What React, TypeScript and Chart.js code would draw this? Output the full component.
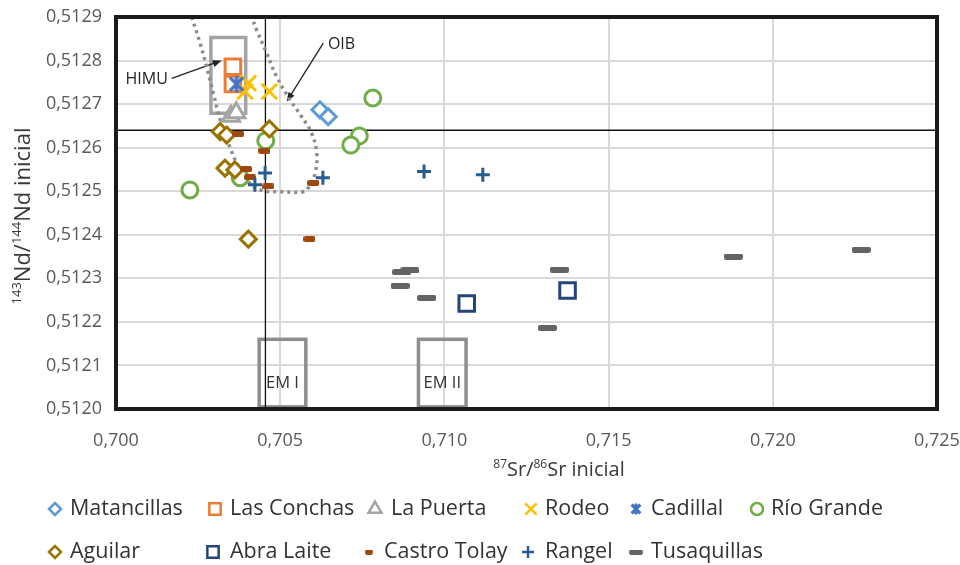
import React, { useEffect, useRef } from 'react';
import { Chart, registerables } from 'chart.js';
import { drawPoint } from 'chart.js/helpers';

Chart.register(...registerables);

const FONT = '"Open Sans", "Liberation Sans", sans-serif';

// ---- Series names ----
const seriesNames = [
  'Matancillas', 'Las Conchas', 'La Puerta', 'Rodeo', 'Cadillal', 'Río Grande',
  'Aguilar', 'Abra Laite', 'Castro Tolay', 'Rangel', 'Tusaquillas',
];

// ---- 87Sr/86Sr (x) and 143Nd/144Nd (y) per locality ----
const matancillasX = [0.70621, 0.70646];
const matancillasY = [0.512687, 0.512671];

const lasConchasX = [0.70356, 0.70356];
const lasConchasY = [0.512786, 0.512746];

const laPuertaX = [0.70350, 0.70366];
const laPuertaY = [0.512672, 0.512680];

const rodeoX = [0.70403, 0.70393, 0.70467];
const rodeoY = [0.512748, 0.512729, 0.512729];

const cadillalX = [0.70367];
const cadillalY = [0.512746];

const rioGrandeX = [0.70782, 0.70741, 0.70715, 0.70456, 0.70378, 0.70225];
const rioGrandeY = [0.512714, 0.512627, 0.512606, 0.512616, 0.512531, 0.512503];

const aguilarX = [0.70317, 0.70337, 0.70467, 0.70332, 0.70362, 0.70403];
const aguilarY = [0.512637, 0.512629, 0.512643, 0.512553, 0.512549, 0.512390];

const abraLaiteX = [0.71068, 0.71375];
const abraLaiteY = [0.512242, 0.512272];

const castroTolayX = [0.70372, 0.70452, 0.70396, 0.70408, 0.70464, 0.70601, 0.70589];
const castroTolayY = [0.512632, 0.512593, 0.512551, 0.512532, 0.512511, 0.512519, 0.512390];

const rangelX = [0.70454, 0.70423, 0.70630, 0.70938, 0.71117];
const rangelY = [0.512542, 0.512515, 0.512531, 0.512545, 0.512538];

const tusaquillasX = [0.70870, 0.70895, 0.70865, 0.70946, 0.71350, 0.71314, 0.71880, 0.72269];
const tusaquillasY = [0.512314, 0.512318, 0.512283, 0.512255, 0.512320, 0.512186, 0.512350, 0.512366];

// ---- OIB field outline ----
const oibX = [
  0.702305, 0.702560, 0.702780, 0.702980, 0.703170, 0.703500, 0.703724, 0.703980,
  0.704385, 0.704994, 0.705703, 0.705877, 0.706060, 0.706112, 0.705959, 0.705655,
  0.705298, 0.704893, 0.704589, 0.704284, 0.704132,
];
const oibY = [
  0.512900, 0.512840, 0.512780, 0.512720, 0.512665, 0.512595, 0.512557, 0.512526,
  0.512503, 0.512499, 0.512499, 0.512510, 0.512541, 0.512587, 0.512633, 0.512671,
  0.512710, 0.512763, 0.512817, 0.512870, 0.512900,
];

// ---- Reference values (CHUR / bulk earth) ----
const refSr = 0.70455;
const refNd = 0.51264;

// ---- Mantle end-member boxes: [xMin, xMax, yMin, yMax] ----
const himuBox = [0.70289, 0.70395, 0.512679, 0.512853];
const em1Box = [0.70436, 0.70578, 0.512005, 0.512160];
const em2Box = [0.70921, 0.71066, 0.512005, 0.512160];
const boxLabels = ['EM I', 'EM II'];

// ---- Callout labels with arrows: [textX, textY, fromX, fromY, toX, toY] ----
const himuCallout = [0.700934, 0.512756, 0.701696, 0.512759, 0.703219, 0.512800];
const oibCallout = [0.706867, 0.512838, 0.706312, 0.512840, 0.705198, 0.512706];
const calloutLabels = ['HIMU', 'OIB'];

// ---- Axis ticks ----
const xTicks = [0.700, 0.705, 0.710, 0.715, 0.720, 0.725];
const yTicks = [0.5120, 0.5121, 0.5122, 0.5123, 0.5124, 0.5125, 0.5126, 0.5127, 0.5128, 0.5129];

const xTitleParts = [
  { text: '87', sup: true }, { text: 'Sr/' }, { text: '86', sup: true }, { text: 'Sr inicial' },
];
const yTitleParts = [
  { text: '143', sup: true }, { text: 'Nd/' }, { text: '144', sup: true }, { text: 'Nd inicial' },
];

// ---- Custom marker glyphs ----
function makeDash(w: number, h: number, color: string) {
  const c = document.createElement('canvas');
  c.width = w;
  c.height = h;
  const g = c.getContext('2d')!;
  g.fillStyle = color;
  g.beginPath();
  (g as any).roundRect(0, 0, w, h, Math.min(2, h / 2));
  g.fill();
  return c;
}

function makeAsterisk(size: number, color: string, lw: number) {
  const c = document.createElement('canvas');
  c.width = size;
  c.height = size;
  const g = c.getContext('2d')!;
  g.strokeStyle = color;
  g.lineWidth = lw;
  const m = size / 2;
  const r = size / 2 - lw / 2;
  const d = r * 0.8;
  g.beginPath();
  g.moveTo(m, m - r);
  g.lineTo(m, m + r);
  g.moveTo(m - d, m - d);
  g.lineTo(m + d, m + d);
  g.moveTo(m + d, m - d);
  g.lineTo(m - d, m + d);
  g.stroke();
  return c;
}

const COLORS = {
  matancillas: '#5b9bd5',
  lasConchas: '#ed7d31',
  laPuerta: '#a5a5a5',
  rodeo: '#ffc000',
  cadillal: '#4472c4',
  rioGrande: '#70ad47',
  aguilar: '#997300',
  abraLaite: '#264478',
  castroTolay: '#9e480e',
  rangel: '#255e91',
  tusaquillas: '#636363',
};

export default function App() {
  const ref = useRef<HTMLCanvasElement>(null);

  useEffect(() => {
    const pts = (xs: number[], ys: number[]) => xs.map((x, i) => ({ x, y: ys[i] }));

    const cadillalMark = makeAsterisk(20, COLORS.cadillal, 3.4);
    const castroMark = makeDash(12, 6, COLORS.castroTolay);
    const tusaMark = makeDash(19, 6, COLORS.tusaquillas);

    // marker style per series (same order as seriesNames)
    const styles: any[] = [
      { xs: matancillasX, ys: matancillasY, color: COLORS.matancillas, style: 'rectRot', r: 8, lr: 6 },
      { xs: lasConchasX, ys: lasConchasY, color: COLORS.lasConchas, style: 'rect', r: 11, lr: 8 },
      { xs: laPuertaX, ys: laPuertaY, color: COLORS.laPuerta, style: 'triangle', r: 10, lr: 7.5 },
      { xs: rodeoX, ys: rodeoY, color: COLORS.rodeo, style: 'crossRot', r: 11, lr: 8 },
      { xs: cadillalX, ys: cadillalY, color: COLORS.cadillal, style: cadillalMark, r: 9, legendImg: makeAsterisk(14, COLORS.cadillal, 3) },
      { xs: rioGrandeX, ys: rioGrandeY, color: COLORS.rioGrande, style: 'circle', r: 8, lr: 6 },
      { xs: aguilarX, ys: aguilarY, color: COLORS.aguilar, style: 'rectRot', r: 8, lr: 6 },
      { xs: abraLaiteX, ys: abraLaiteY, color: COLORS.abraLaite, style: 'rect', r: 11, lr: 8 },
      { xs: castroTolayX, ys: castroTolayY, color: COLORS.castroTolay, style: castroMark, r: 6, legendImg: makeDash(8, 5, COLORS.castroTolay) },
      { xs: rangelX, ys: rangelY, color: COLORS.rangel, style: 'cross', r: 7, lr: 6 },
      { xs: tusaquillasX, ys: tusaquillasY, color: COLORS.tusaquillas, style: tusaMark, r: 9, legendImg: makeDash(14, 5, COLORS.tusaquillas) },
    ];

    // later series are painted on top of earlier ones
    const datasets: any[] = styles.map((s, i) => ({
      label: seriesNames[i],
      data: pts(s.xs, s.ys),
      pointStyle: s.style,
      pointRadius: s.r,
      pointBorderWidth: 3,
      pointBorderColor: s.color,
      pointBackgroundColor: '#ffffff',
      showLine: false,
      order: 50 - i,
    }));

    datasets.push({
      label: 'OIB',
      data: pts(oibX, oibY),
      showLine: true,
      pointRadius: 0,
      borderColor: '#8c8c8c',
      borderWidth: 3.5,
      borderDash: [3, 4],
      tension: 0.4,
      fill: false,
      order: 100,
    });

    // legend layout: [series index, marker x, text x, row y]
    const legendLayout = [
      [0, 55, 70, 509], [1, 215, 230, 509], [2, 375, 391, 509], [3, 531, 545, 509],
      [4, 636, 651, 509], [5, 757, 771, 509],
      [6, 55, 70, 552], [7, 213, 230, 552], [8, 369, 384, 552], [9, 528, 545, 552],
      [10, 636, 651, 552],
    ];

    const drawRich = (ctx: CanvasRenderingContext2D, parts: any[], x: number, y: number, main: number, sup: number) => {
      let total = 0;
      const widths = parts.map((p) => {
        ctx.font = `${p.sup ? sup : main}px ${FONT}`;
        const w = ctx.measureText(p.text).width;
        total += w;
        return w;
      });
      let cx = x - total / 2;
      ctx.textAlign = 'left';
      ctx.textBaseline = 'alphabetic';
      parts.forEach((p, i) => {
        ctx.font = `${p.sup ? sup : main}px ${FONT}`;
        ctx.fillText(p.text, cx, p.sup ? y - main * 0.4 : y);
        cx += widths[i];
      });
    };

    const decor = {
      id: 'decor',
      beforeDatasetsDraw(chart: any) {
        const { ctx, scales } = chart;
        const xs = scales.x;
        const ys = scales.y;
        const px = (v: number) => xs.getPixelForValue(v);
        const py = (v: number) => ys.getPixelForValue(v);
        const area = chart.chartArea;
        ctx.save();

        const box = (b: number[], color: string) => {
          ctx.strokeStyle = color;
          ctx.lineWidth = 3.5;
          ctx.strokeRect(px(b[0]), py(b[3]), px(b[1]) - px(b[0]), py(b[2]) - py(b[3]));
        };
        box(himuBox, '#a3a3a3');
        box(em1Box, '#8e8e8e');
        box(em2Box, '#8e8e8e');

        // box captions
        ctx.fillStyle = '#333333';
        ctx.font = `16.5px ${FONT}`;
        ctx.textAlign = 'center';
        ctx.textBaseline = 'middle';
        [em1Box, em2Box].forEach((b, i) => {
          ctx.fillText(boxLabels[i], (px(b[0]) + px(b[1])) / 2, py(0.51206));
        });

        // reference lines
        ctx.strokeStyle = '#111111';
        ctx.lineWidth = 1.3;
        ctx.beginPath();
        ctx.moveTo(px(refSr), area.top);
        ctx.lineTo(px(refSr), area.bottom);
        ctx.moveTo(area.left, py(refNd));
        ctx.lineTo(area.right, py(refNd));
        ctx.stroke();

        // callouts
        [himuCallout, oibCallout].forEach((c, i) => {
          ctx.fillStyle = '#222222';
          ctx.font = `16px ${FONT}`;
          ctx.textAlign = 'center';
          ctx.textBaseline = 'middle';
          ctx.fillText(calloutLabels[i], px(c[0]), py(c[1]));
          const x1 = px(c[2]), y1 = py(c[3]), x2 = px(c[4]), y2 = py(c[5]);
          const ang = Math.atan2(y2 - y1, x2 - x1);
          const hl = 9, hw = 3.5;
          ctx.strokeStyle = '#222222';
          ctx.lineWidth = 1.3;
          ctx.beginPath();
          ctx.moveTo(x1, y1);
          ctx.lineTo(x2 - Math.cos(ang) * hl * 0.8, y2 - Math.sin(ang) * hl * 0.8);
          ctx.stroke();
          ctx.beginPath();
          ctx.moveTo(x2, y2);
          ctx.lineTo(x2 - Math.cos(ang) * hl + Math.sin(ang) * hw, y2 - Math.sin(ang) * hl - Math.cos(ang) * hw);
          ctx.lineTo(x2 - Math.cos(ang) * hl - Math.sin(ang) * hw, y2 - Math.sin(ang) * hl + Math.cos(ang) * hw);
          ctx.closePath();
          ctx.fill();
        });
        ctx.restore();
      },
      afterDraw(chart: any) {
        const { ctx } = chart;
        const area = chart.chartArea;
        ctx.save();
        // plot frame
        ctx.strokeStyle = '#1a1a1a';
        ctx.lineWidth = 4;
        ctx.strokeRect(area.left, area.top, area.right - area.left, area.bottom - area.top);

        // axis titles
        ctx.fillStyle = '#3a3a3a';
        drawRich(ctx, xTitleParts, 559, 476, 20, 12);
        ctx.save();
        ctx.translate(30, 216);
        ctx.rotate(-Math.PI / 2);
        drawRich(ctx, yTitleParts, 0, 0, 22, 13);
        ctx.restore();

        // legend
        legendLayout.forEach(([idx, mx, tx, ly]) => {
          const s = styles[idx];
          ctx.save();
          ctx.strokeStyle = s.color;
          ctx.fillStyle = '#ffffff';
          ctx.lineWidth = 2.5;
          drawPoint(ctx, {
            pointStyle: s.legendImg || s.style,
            radius: s.lr || 6,
            rotation: 0,
            borderWidth: 2.5,
          } as any, mx, ly);
          ctx.restore();
          ctx.fillStyle = '#333333';
          ctx.font = `21.5px ${FONT}`;
          ctx.textAlign = 'left';
          ctx.textBaseline = 'middle';
          ctx.fillText(seriesNames[idx], tx, ly);
        });
        ctx.restore();
      },
    };

    const chart = new Chart(ref.current!, {
      type: 'scatter',
      data: { datasets },
      options: {
        responsive: false,
        animation: false,
        devicePixelRatio: 1,
        events: [],
        layout: { padding: { left: 0, top: 17, right: 23, bottom: 0 } },
        plugins: { legend: { display: false }, tooltip: { enabled: false } },
        scales: {
          x: {
            type: 'linear',
            min: 0.7,
            max: 0.725,
            afterBuildTicks: (s: any) => { s.ticks = xTicks.map((v) => ({ value: v })); },
            afterFit: (s: any) => { s.height = 156; s.paddingLeft = 0; s.paddingRight = 0; },
            ticks: {
              callback: (v: any) => Number(v).toFixed(3).replace('.', ','),
              font: { family: FONT, size: 18 },
              color: '#595959',
              padding: 21,
              maxRotation: 0,
              autoSkip: false,
            },
            grid: { color: '#d9d9d9', lineWidth: 2, drawTicks: false },
            border: { display: false },
          },
          y: {
            type: 'linear',
            min: 0.512,
            max: 0.5129,
            afterBuildTicks: (s: any) => { s.ticks = yTicks.map((v) => ({ value: v })); },
            afterFit: (s: any) => { s.width = 116; s.paddingTop = 0; s.paddingBottom = 0; },
            ticks: {
              callback: (v: any) => Number(v).toFixed(4).replace('.', ','),
              font: { family: FONT, size: 18 },
              color: '#595959',
              padding: 14,
              autoSkip: false,
            },
            grid: { color: '#d9d9d9', lineWidth: 2, drawTicks: false },
            border: { display: false },
          },
        },
      },
      plugins: [decor],
    } as any);

    return () => chart.destroy();
  }, []);

  return (
    <div style={{ position: 'absolute', left: 0, top: 0, width: 960, height: 565, background: '#ffffff' }}>
      <canvas ref={ref} width={960} height={565} style={{ display: 'block' }} />
    </div>
  );
}
